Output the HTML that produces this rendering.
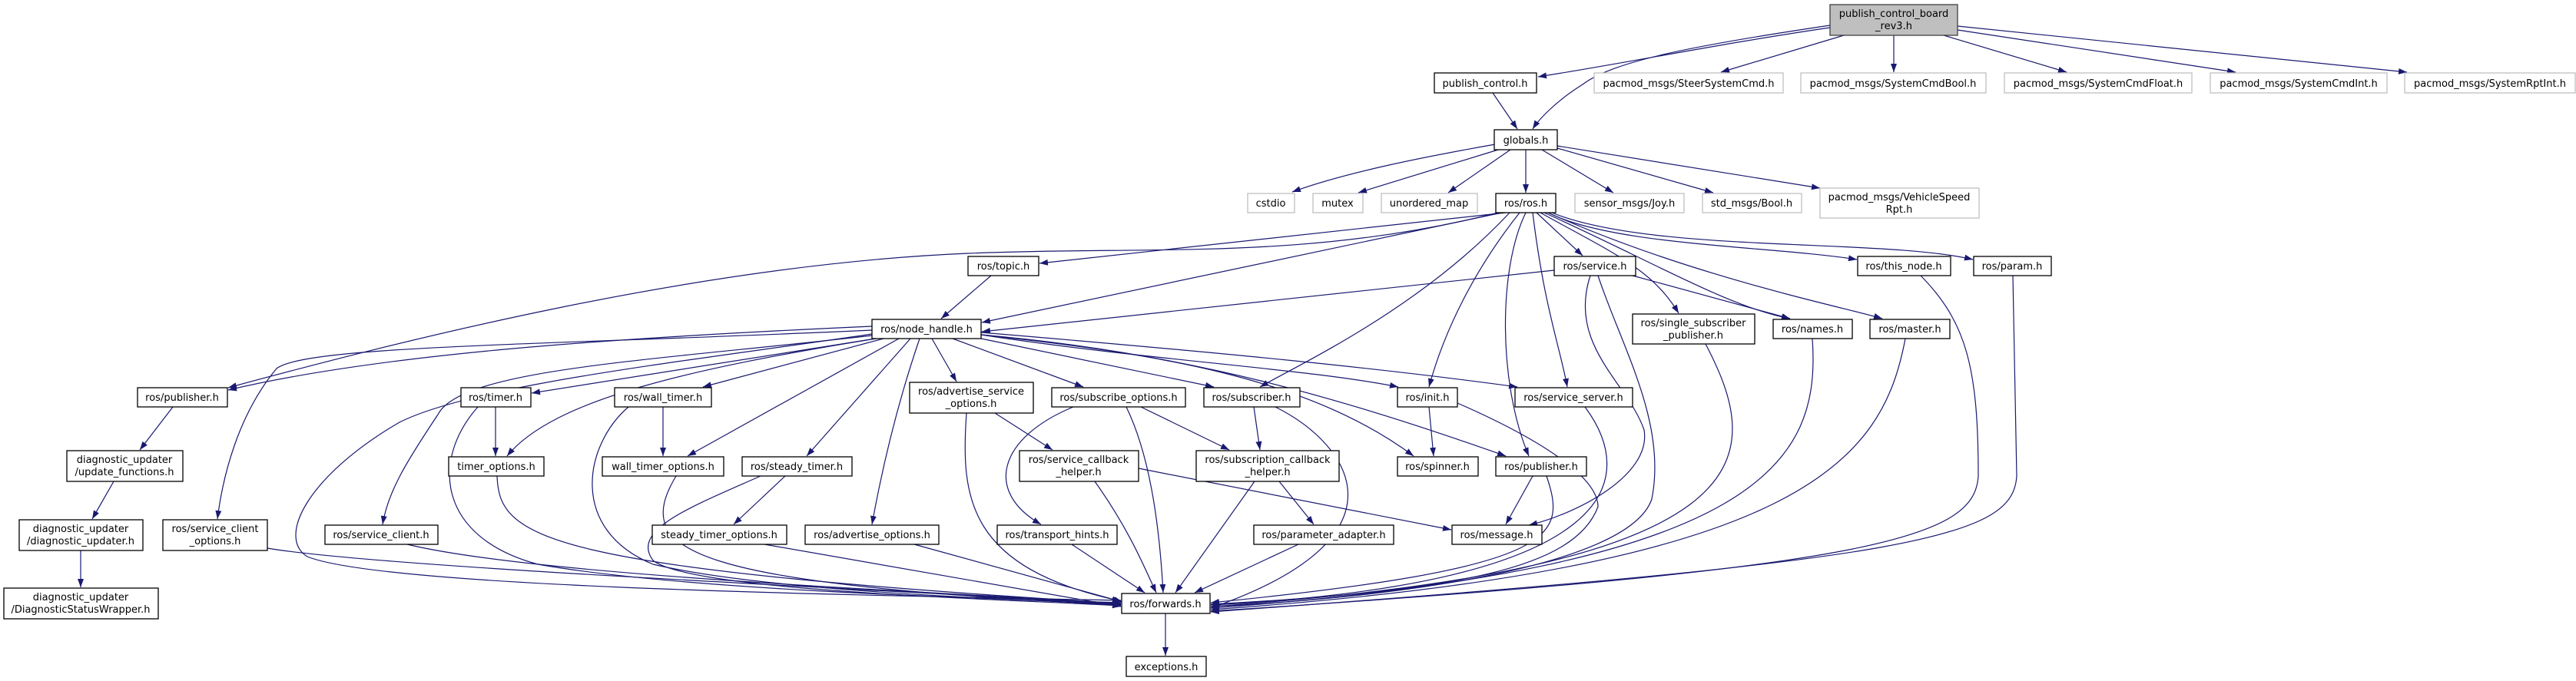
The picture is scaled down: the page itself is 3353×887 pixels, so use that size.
<!DOCTYPE html>
<html><head><meta charset="utf-8"><style>
html,body{margin:0;padding:0;background:#fff}
svg{display:block}
text{font-family:"DejaVu Sans","Liberation Sans",sans-serif;font-size:13px;fill:#000}
</style></head><body>
<svg width="3353" height="887" viewBox="0 0 3353 887" xmlns="http://www.w3.org/2000/svg">
<defs><marker id="a" markerWidth="12" markerHeight="10" refX="11" refY="4" orient="auto" markerUnits="userSpaceOnUse"><path d="M0,0 L11,4 L0,8 z" fill="#191970"/></marker></defs>
<g fill="none" stroke="#191970" stroke-width="1.2" marker-end="url(#a)">
<path d="M2382,36 C2250,55 2100,85 2002,100"/>
<path d="M2382,33 C2200,60 2100,80 2060,110 C2020,135 2000,160 1995,168"/>
<path d="M2400,46 L2240,94"/>
<path d="M2465,46 L2465,94"/>
<path d="M2530,46 L2690,94"/>
<path d="M2548,39 L2910,94"/>
<path d="M2548,34 L3133,94"/>
<path d="M1943,121 L1975,168"/>
<path d="M1946,188 C1850,205 1750,225 1682,250"/>
<path d="M1950,195 L1768,251"/>
<path d="M1966,195 L1885,251"/>
<path d="M1986,195 L1986,251"/>
<path d="M2007,195 L2100,251"/>
<path d="M2027,193 L2230,251"/>
<path d="M2027,190 L2369,245"/>
<path d="M1960,277 L1353,343"/>
<path d="M1955,277 L1278,420"/>
<path d="M1290,359 L1225,415"/>
<path d="M1950,277 C1700,340 1500,320 1260,330 C900,345 500,450 297,505"/>
<path d="M2000,277 L2060,333"/>
<path d="M2015,277 C2100,320 2300,320 2417,338"/>
<path d="M2020,277 C2150,330 2450,310 2568,338"/>
<path d="M2010,277 C2150,340 2250,400 2330,415"/>
<path d="M2015,277 C2200,360 2400,400 2450,415"/>
<path d="M2005,277 C2100,330 2150,350 2185,408"/>
<path d="M1965,277 C1850,400 1700,470 1640,504"/>
<path d="M1978,277 C1920,350 1880,430 1860,504"/>
<path d="M1986,277 C1950,350 1950,500 1990,594"/>
<path d="M1995,277 C2010,400 2030,450 2040,504"/>
<path d="M2023,352 L1278,432"/>
<path d="M2125,359 L2330,415"/>
<path d="M2070,359 C2040,450 2120,500 2140,560 C2150,620 2050,670 1990,684"/>
<path d="M2080,359 C2110,450 2170,550 2150,650 C2120,740 1800,780 1576,790"/>
<path d="M2359,441 C2370,600 2300,740 1576,792"/>
<path d="M2480,441 C2450,600 2350,740 1576,794"/>
<path d="M2500,359 C2560,420 2575,480 2575,620 C2570,700 2450,740 1576,796"/>
<path d="M2620,359 L2625,620 C2620,700 2500,730 1576,797"/>
<path d="M2220,448 C2300,600 2300,740 1576,790"/>
<path d="M2063,530 C2130,620 2120,760 1576,788"/>
<path d="M1860,530 L1866,594"/>
<path d="M1897,525 C2000,570 2080,620 2080,660 C2050,740 1900,770 1576,787"/>
<path d="M1995,620 L1960,683"/>
<path d="M2013,620 C2040,700 2030,740 1576,785"/>
<path d="M1135,425 C800,440 500,460 297,508"/>
<path d="M1135,430 C700,450 400,450 360,480 C310,540 290,620 283,676"/>
<path d="M1135,435 C900,470 620,500 520,550 C400,620 360,700 400,725 C500,765 1100,775 1459,782"/>
<path d="M1135,437 C850,470 600,480 570,540 C530,600 505,640 498,683"/>
<path d="M1140,441 L692,512"/>
<path d="M1140,441 C900,480 720,520 660,594"/>
<path d="M1150,441 L915,504"/>
<path d="M1170,441 L895,594"/>
<path d="M1185,441 L1050,594"/>
<path d="M1197,441 C1170,520 1150,600 1135,683"/>
<path d="M1213,441 L1245,497"/>
<path d="M1240,441 L1410,504"/>
<path d="M1277,441 L1580,504"/>
<path d="M1277,436 C1500,470 1700,480 1820,504"/>
<path d="M1277,436 C1500,460 1700,490 1840,594"/>
<path d="M1277,436 C1550,460 1750,520 1960,594"/>
<path d="M1277,433 C1600,460 1800,480 1975,504"/>
<path d="M645,530 L645,594"/>
<path d="M622,530 C560,600 570,700 700,735 C900,770 1300,780 1459,785"/>
<path d="M647,620 C650,700 700,740 1459,786"/>
<path d="M863,530 L863,594"/>
<path d="M818,530 C760,580 740,690 850,735 C1000,770 1300,780 1459,787"/>
<path d="M880,620 C820,720 900,760 1459,788"/>
<path d="M1022,620 L955,683"/>
<path d="M990,620 C900,660 820,690 850,730 C900,770 1300,780 1459,789"/>
<path d="M995,709 L1459,790"/>
<path d="M1190,709 L1461,784"/>
<path d="M1295,538 L1370,586"/>
<path d="M1258,538 C1250,650 1260,740 1459,783"/>
<path d="M1397,530 C1300,570 1280,640 1355,683"/>
<path d="M1466,530 C1500,600 1510,700 1514,772"/>
<path d="M1485,530 L1600,586"/>
<path d="M1632,530 L1640,586"/>
<path d="M1660,530 C1760,580 1840,700 1576,792"/>
<path d="M1425,627 C1470,690 1490,740 1505,772"/>
<path d="M1482,610 L1889,690"/>
<path d="M1633,627 L1530,772"/>
<path d="M1665,627 L1710,683"/>
<path d="M1395,709 L1490,772"/>
<path d="M1690,709 L1555,772"/>
<path d="M530,709 C700,750 1200,770 1459,786"/>
<path d="M348,714 C500,740 1200,770 1459,787"/>
<path d="M1517,799 L1517,854"/>
<path d="M225,530 L182,586"/>
<path d="M148,627 L120,676"/>
<path d="M105,717 L105,765"/>
</g>
<g stroke-width="1.3">
<rect x="2382" y="6" width="166" height="40" fill="#bfbfbf" stroke="#404040"/>
<text x="2465" y="22" text-anchor="middle">publish_control_board</text><text x="2465" y="38" text-anchor="middle">_rev3.h</text>
<g fill="#fff" stroke="#000">
<rect x="1867" y="95" width="133" height="26"/>
<rect x="1945" y="169" width="82" height="26"/>
<rect x="1947" y="252" width="78" height="25"/>
<rect x="1260" y="334" width="92" height="25"/>
<rect x="2023" y="334" width="106" height="25"/>
<rect x="2418" y="334" width="121" height="25"/>
<rect x="2569" y="334" width="101" height="25"/>
<rect x="1135" y="416" width="142" height="25"/>
<rect x="2125" y="409" width="159" height="39"/>
<rect x="2308" y="416" width="103" height="25"/>
<rect x="2434" y="416" width="104" height="25"/>
<rect x="179" y="505" width="117" height="25"/>
<rect x="600" y="505" width="91" height="25"/>
<rect x="800" y="505" width="126" height="25"/>
<rect x="1184" y="498" width="161" height="40"/>
<rect x="1369" y="505" width="174" height="25"/>
<rect x="1567" y="505" width="125" height="25"/>
<rect x="1819" y="505" width="78" height="25"/>
<rect x="1972" y="505" width="153" height="25"/>
<rect x="584" y="595" width="124" height="25"/>
<rect x="784" y="595" width="158" height="25"/>
<rect x="966" y="595" width="143" height="25"/>
<rect x="1819" y="595" width="105" height="25"/>
<rect x="1947" y="595" width="118" height="25"/>
<rect x="87" y="587" width="151" height="40"/>
<rect x="1327" y="587" width="155" height="40"/>
<rect x="1557" y="587" width="186" height="40"/>
<rect x="423" y="684" width="147" height="25"/>
<rect x="849" y="684" width="175" height="25"/>
<rect x="1048" y="684" width="174" height="25"/>
<rect x="1298" y="684" width="156" height="25"/>
<rect x="1632" y="684" width="182" height="25"/>
<rect x="1890" y="684" width="117" height="25"/>
<rect x="25" y="677" width="161" height="40"/>
<rect x="212" y="677" width="136" height="40"/>
<rect x="1460" y="773" width="115" height="26"/>
<rect x="5" y="766" width="201" height="40"/>
<rect x="1466" y="855" width="104" height="26"/>
</g>
<g fill="#fff" stroke="#bfbfbf">
<rect x="2075" y="95" width="246" height="26"/>
<rect x="2344" y="95" width="241" height="26"/>
<rect x="2609" y="95" width="244" height="26"/>
<rect x="2877" y="95" width="230" height="26"/>
<rect x="3130" y="95" width="222" height="26"/>
<rect x="1624" y="252" width="61" height="25"/>
<rect x="1709" y="252" width="65" height="25"/>
<rect x="1798" y="252" width="125" height="25"/>
<rect x="2050" y="252" width="142" height="25"/>
<rect x="2216" y="252" width="129" height="25"/>
<rect x="2369" y="245" width="207" height="39"/>
</g>
</g>
<g text-anchor="middle">
<text x="1933" y="113">publish_control.h</text>
<text x="2198" y="113">pacmod_msgs/SteerSystemCmd.h</text>
<text x="2464" y="113">pacmod_msgs/SystemCmdBool.h</text>
<text x="2731" y="113">pacmod_msgs/SystemCmdFloat.h</text>
<text x="2992" y="113">pacmod_msgs/SystemCmdInt.h</text>
<text x="3241" y="113">pacmod_msgs/SystemRptInt.h</text>
<text x="1986" y="187">globals.h</text>
<text x="1654" y="269">cstdio</text>
<text x="1741" y="269">mutex</text>
<text x="1860" y="269">unordered_map</text>
<text x="1986" y="269">ros/ros.h</text>
<text x="2121" y="269">sensor_msgs/Joy.h</text>
<text x="2280" y="269">std_msgs/Bool.h</text>
<text x="2472" y="261">pacmod_msgs/VehicleSpeed</text><text x="2472" y="277">Rpt.h</text>
<text x="1306" y="351">ros/topic.h</text>
<text x="2076" y="351">ros/service.h</text>
<text x="2478" y="351">ros/this_node.h</text>
<text x="2619" y="351">ros/param.h</text>
<text x="1206" y="433">ros/node_handle.h</text>
<text x="2204" y="425">ros/single_subscriber</text><text x="2204" y="441">_publisher.h</text>
<text x="2359" y="433">ros/names.h</text>
<text x="2486" y="433">ros/master.h</text>
<text x="237" y="522">ros/publisher.h</text>
<text x="645" y="522">ros/timer.h</text>
<text x="863" y="522">ros/wall_timer.h</text>
<text x="1264" y="514">ros/advertise_service</text><text x="1264" y="530">_options.h</text>
<text x="1456" y="522">ros/subscribe_options.h</text>
<text x="1629" y="522">ros/subscriber.h</text>
<text x="1858" y="522">ros/init.h</text>
<text x="2048" y="522">ros/service_server.h</text>
<text x="646" y="612">timer_options.h</text>
<text x="863" y="612">wall_timer_options.h</text>
<text x="1037" y="612">ros/steady_timer.h</text>
<text x="1871" y="612">ros/spinner.h</text>
<text x="2006" y="612">ros/publisher.h</text>
<text x="162" y="603">diagnostic_updater</text><text x="162" y="619">/update_functions.h</text>
<text x="1404" y="603">ros/service_callback</text><text x="1404" y="619">_helper.h</text>
<text x="1650" y="603">ros/subscription_callback</text><text x="1650" y="619">_helper.h</text>
<text x="496" y="701">ros/service_client.h</text>
<text x="936" y="701">steady_timer_options.h</text>
<text x="1135" y="701">ros/advertise_options.h</text>
<text x="1376" y="701">ros/transport_hints.h</text>
<text x="1723" y="701">ros/parameter_adapter.h</text>
<text x="1948" y="701">ros/message.h</text>
<text x="105" y="693">diagnostic_updater</text><text x="105" y="709">/diagnostic_updater.h</text>
<text x="280" y="693">ros/service_client</text><text x="280" y="709">_options.h</text>
<text x="1517" y="791">ros/forwards.h</text>
<text x="105" y="782">diagnostic_updater</text><text x="105" y="798">/DiagnosticStatusWrapper.h</text>
<text x="1518" y="873">exceptions.h</text>
</g>
</svg>
</body></html>
